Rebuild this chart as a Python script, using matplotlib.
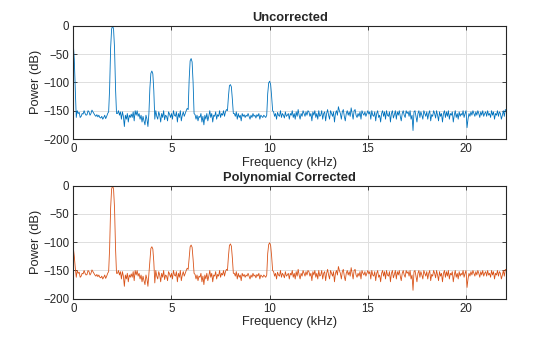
import numpy as np
import matplotlib.pyplot as plt

plt.rcParams['font.family'] = ['Liberation Sans', 'DejaVu Sans']

# noise floor, 0.05 kHz steps, one row per kHz (same floor in both panels)
floor_rows = [
    [-150, -160, -152, -158, -150, -155, -153, -162, -160, -155, -156, -150, -155, -158, -157, -150, -152, -158, -155, -149],
    [-152, -155, -158, -160, -157, -161, -158, -162, -163, -160, -165, -162, -158, -164, -160, -155, -165, -158, -155, -150],
    [-150, -150, -150, -150, -150, -155, -150, -158, -152, -165, -152, -160, -178, -158, -165, -155, -170, -158, -162, -156],
    [-162, -152, -168, -150, -158, -150, -160, -155, -165, -158, -170, -160, -168, -175, -158, -165, -178, -160, -152, -150],
    [-150, -150, -150, -155, -150, -160, -165, -152, -158, -170, -155, -162, -150, -166, -158, -160, -168, -152, -156, -162],
    [-155, -165, -150, -158, -160, -152, -170, -155, -162, -150, -168, -158, -152, -160, -155, -150, -146, -148, -150, -150],
    [-150, -150, -150, -160, -157, -165, -158, -168, -160, -162, -155, -170, -160, -175, -158, -165, -155, -168, -160, -150],
    [-162, -155, -170, -158, -160, -152, -165, -157, -160, -150, -162, -155, -158, -150, -160, -152, -148, -150, -155, -150],
    [-150, -150, -150, -150, -155, -160, -152, -165, -155, -162, -158, -168, -155, -160, -157, -162, -158, -160, -155, -160],
    [-165, -158, -162, -155, -160, -158, -163, -157, -160, -155, -165, -158, -160, -162, -158, -160, -162, -165, -163, -160],
    [-150, -150, -150, -150, -152, -160, -155, -165, -153, -158, -160, -150, -162, -155, -158, -163, -152, -160, -158, -155],
    [-165, -155, -158, -150, -162, -155, -165, -152, -160, -148, -158, -165, -155, -160, -150, -155, -160, -152, -158, -150],
    [-152, -160, -155, -168, -152, -158, -150, -162, -155, -165, -150, -160, -158, -150, -165, -155, -152, -168, -155, -148],
    [-158, -165, -150, -155, -160, -152, -170, -155, -150, -158, -143, -150, -155, -165, -152, -148, -160, -168, -155, -150],
    [-158, -152, -160, -145, -155, -165, -150, -148, -158, -162, -155, -160, -152, -165, -150, -155, -158, -152, -160, -155],
    [-150, -156, -152, -165, -150, -158, -160, -152, -168, -155, -150, -162, -158, -170, -155, -150, -160, -152, -165, -150],
    [-158, -160, -152, -170, -155, -150, -163, -157, -150, -165, -152, -158, -150, -160, -168, -155, -150, -158, -162, -150],
    [-155, -152, -160, -150, -165, -158, -185, -152, -150, -160, -170, -155, -150, -162, -152, -158, -165, -150, -155, -160],
    [-152, -165, -155, -150, -168, -157, -160, -150, -155, -163, -150, -158, -168, -152, -160, -155, -170, -155, -150, -162],
    [-152, -160, -150, -165, -155, -158, -152, -170, -158, -150, -162, -155, -165, -152, -160, -155, -158, -150, -162, -155],
    [-150, -180, -165, -155, -160, -152, -158, -150, -155, -160, -152, -158, -150, -155, -162, -152, -158, -150, -160, -155],
    [-152, -160, -150, -158, -155, -162, -150, -158, -152, -165, -155, -158, -150, -160, -152, -155, -165, -158, -150, -160],
    [-148, -150],
]

# peaks: (frequencies kHz, power dB)
unc_peaks = [
    ([0.0, 0.05, 0.10, 0.15], [-32, -60, -110, -162]),
    ([1.80, 1.85, 1.90, 1.95, 2.00, 2.05, 2.10, 2.15, 2.20], [-152, -110, -40, -6, 0, -6, -40, -110, -155]),
    ([3.85, 3.90, 3.95, 4.00, 4.05, 4.10, 4.15], [-155, -110, -84, -80, -85, -115, -165]),
    ([5.85, 5.90, 5.95, 6.00, 6.05, 6.10, 6.15], [-148, -95, -62, -58, -64, -100, -155]),
    ([7.85, 7.90, 7.95, 8.00, 8.05, 8.10, 8.15], [-150, -125, -106, -104, -108, -130, -155]),
    ([9.85, 9.90, 9.95, 10.00, 10.05, 10.10, 10.15], [-158, -120, -101, -98, -104, -125, -150]),
]
cor_peaks = [
    ([0.0, 0.05, 0.10, 0.15], [-110, -125, -145, -162]),
    ([1.80, 1.85, 1.90, 1.95, 2.00, 2.05, 2.10, 2.15, 2.20], [-152, -110, -40, -6, 0, -6, -40, -110, -155]),
    ([3.85, 3.90, 3.95, 4.00, 4.05, 4.10, 4.15], [-155, -130, -111, -108, -112, -135, -172]),
    ([5.85, 5.90, 5.95, 6.00, 6.05, 6.10, 6.15], [-148, -128, -108, -105, -109, -130, -155]),
    ([7.85, 7.90, 7.95, 8.00, 8.05, 8.10, 8.15], [-150, -125, -106, -103, -107, -128, -155]),
    ([9.85, 9.90, 9.95, 10.00, 10.05, 10.10, 10.15], [-158, -120, -104, -101, -106, -125, -150]),
]

floor_db = np.concatenate([np.array(r, float) for r in floor_rows])
floor_f = np.arange(len(floor_db)) * 0.05


def build_spectrum(peaks):
    keep = np.ones(len(floor_f), bool)
    for pf, _ in peaks:
        keep &= ~((floor_f >= min(pf) - 1e-9) & (floor_f <= max(pf) + 1e-9))
    f = np.concatenate([floor_f[keep]] + [np.array(pf) for pf, _ in peaks])
    p = np.concatenate([floor_db[keep]] + [np.array(pd, float) for _, pd in peaks])
    order = np.argsort(f)
    return f[order], p[order]


fig = plt.figure(figsize=(5.6, 3.37), dpi=100)
ax1 = fig.add_axes([0.1309, 0.5875, 0.7732, 0.3363])
ax2 = fig.add_axes([0.1309, 0.1135, 0.7732, 0.3355])

panels = [(ax1, unc_peaks, '#0072BD', 'Uncorrected'),
          (ax2, cor_peaks, '#D95319', 'Polynomial Corrected')]

for ax, peaks, color, title in panels:
    f, p = build_spectrum(peaks)
    ax.plot(f, p, color=color, lw=0.6)
    ax.set_xlim(0, 22.05)
    ax.set_ylim(-200, 0)
    ax.set_xticks([0, 5, 10, 15, 20])
    ax.set_yticks([-200, -150, -100, -50, 0])
    ax.grid(True, color='#dfdfdf', lw=0.7)
    ax.set_axisbelow(True)
    for s in ax.spines.values():
        s.set_color('#262626')
        s.set_linewidth(0.8)
    ax.tick_params(direction='in', length=3, width=0.6, colors='#262626',
                   labelsize=8.3, top=True, right=True, pad=3)
    ax.set_title(title, fontsize=9.3, fontweight='bold', color='#262626', pad=3.5)
    ax.set_xlabel('Frequency (kHz)', fontsize=9.3, color='#262626', labelpad=1)
    ax.set_ylabel('Power (dB)', fontsize=9.3, color='#262626')
    ax.yaxis.set_label_coords(-0.072, 0.5)

fig.savefig('out.png', dpi=100)
